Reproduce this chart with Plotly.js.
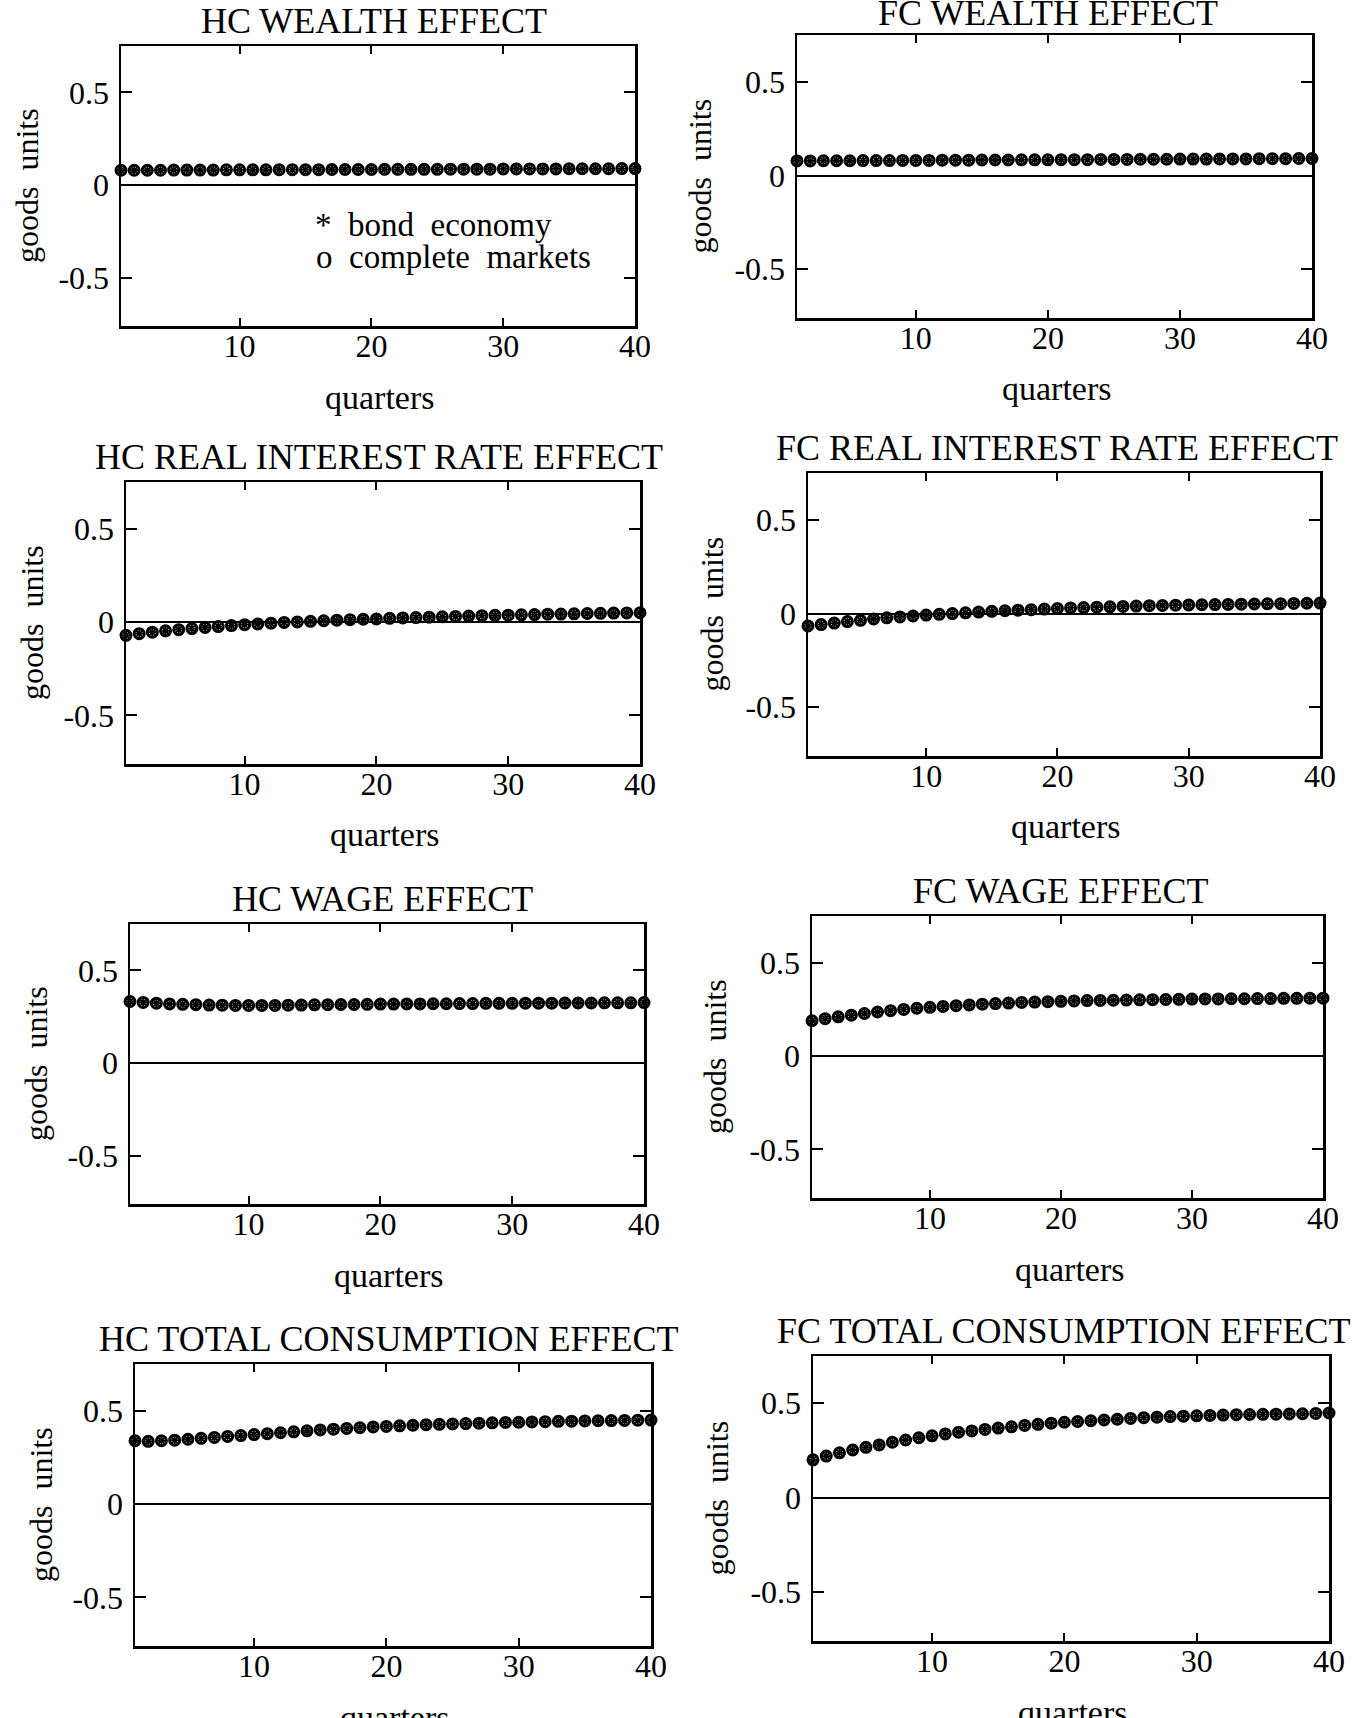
<!DOCTYPE html>
<html>
<head>
<meta charset="utf-8">
<script src="https://cdn.plot.ly/plotly-3.0.1.min.js"></script>
<style>
html,body{margin:0;padding:0;background:#fff;}
#chart{width:1364px;height:1718px;}
</style>
</head>
<body>
<div id="chart"></div>
<script>
// ---------- data ----------
const quarters = [1,2,3,4,5,6,7,8,9,10,11,12,13,14,15,16,17,18,19,20,21,22,23,24,25,26,27,28,29,30,31,32,33,34,35,36,37,38,39,40];

const panelTitles = ['HC WEALTH EFFECT','FC WEALTH EFFECT','HC REAL INTEREST RATE EFFECT','FC REAL INTEREST RATE EFFECT','HC WAGE EFFECT','FC WAGE EFFECT','HC TOTAL CONSUMPTION EFFECT','FC TOTAL CONSUMPTION EFFECT'];
const seriesNames = ['bond economy','complete markets'];
const xTickVals = [10,20,30,40];
const xTickText = ['10','20','30','40'];
const yTickVals = [-0.5,0,0.5];
const yTickText = ['-0.5','0','0.5'];
const xTitle = 'quarters';
const yTitle = 'goods  units';

const hcWealthBond = [0.080,0.080,0.080,0.080,0.081,0.081,0.081,0.081,0.082,0.082,0.082,0.082,0.083,0.083,0.083,0.083,0.084,0.084,0.084,0.084,0.085,0.085,0.085,0.085,0.085,0.086,0.086,0.086,0.086,0.087,0.087,0.087,0.087,0.087,0.088,0.088,0.088,0.088,0.089,0.089];
const hcWealthComp = [0.080,0.080,0.080,0.080,0.081,0.081,0.081,0.081,0.082,0.082,0.082,0.082,0.083,0.083,0.083,0.083,0.084,0.084,0.084,0.084,0.085,0.085,0.085,0.085,0.085,0.086,0.086,0.086,0.086,0.087,0.087,0.087,0.087,0.087,0.088,0.088,0.088,0.088,0.089,0.089];

const fcWealthBond = [0.078,0.078,0.079,0.079,0.079,0.080,0.080,0.080,0.081,0.081,0.081,0.082,0.082,0.082,0.083,0.083,0.083,0.084,0.084,0.084,0.085,0.085,0.085,0.086,0.086,0.086,0.087,0.087,0.087,0.088,0.088,0.088,0.089,0.089,0.089,0.090,0.090,0.090,0.091,0.091];
const fcWealthComp = [0.078,0.078,0.079,0.079,0.079,0.080,0.080,0.080,0.081,0.081,0.081,0.082,0.082,0.082,0.083,0.083,0.083,0.084,0.084,0.084,0.085,0.085,0.085,0.086,0.086,0.086,0.087,0.087,0.087,0.088,0.088,0.088,0.089,0.089,0.089,0.090,0.090,0.090,0.091,0.091];

const hcRateBond = [-0.071,-0.062,-0.054,-0.047,-0.041,-0.035,-0.029,-0.024,-0.019,-0.014,-0.010,-0.006,-0.002,0.001,0.004,0.007,0.010,0.013,0.015,0.017,0.020,0.022,0.024,0.026,0.028,0.030,0.032,0.034,0.036,0.037,0.039,0.040,0.042,0.043,0.044,0.046,0.047,0.048,0.049,0.050];
const hcRateComp = [-0.071,-0.062,-0.054,-0.047,-0.041,-0.035,-0.029,-0.024,-0.019,-0.014,-0.010,-0.006,-0.002,0.001,0.004,0.007,0.010,0.013,0.015,0.017,0.020,0.022,0.024,0.026,0.028,0.030,0.032,0.034,0.036,0.037,0.039,0.040,0.042,0.043,0.044,0.046,0.047,0.048,0.049,0.050];

const fcRateBond = [-0.066,-0.059,-0.051,-0.043,-0.036,-0.029,-0.023,-0.018,-0.013,-0.008,-0.004,0.000,0.004,0.008,0.012,0.015,0.018,0.021,0.024,0.027,0.030,0.032,0.034,0.036,0.038,0.040,0.042,0.043,0.045,0.046,0.047,0.048,0.049,0.050,0.051,0.052,0.053,0.054,0.055,0.056];
const fcRateComp = [-0.066,-0.059,-0.051,-0.043,-0.036,-0.029,-0.023,-0.018,-0.013,-0.008,-0.004,0.000,0.004,0.008,0.012,0.015,0.018,0.021,0.024,0.027,0.030,0.032,0.034,0.036,0.038,0.040,0.042,0.043,0.045,0.046,0.047,0.048,0.049,0.050,0.051,0.052,0.053,0.054,0.055,0.056];

const hcWageBond = [0.332,0.327,0.323,0.319,0.317,0.315,0.313,0.312,0.311,0.311,0.311,0.311,0.312,0.313,0.314,0.315,0.316,0.316,0.317,0.318,0.318,0.319,0.319,0.320,0.320,0.321,0.321,0.322,0.322,0.322,0.323,0.323,0.323,0.324,0.324,0.324,0.325,0.325,0.325,0.326];
const hcWageComp = [0.332,0.327,0.323,0.319,0.317,0.315,0.313,0.312,0.311,0.311,0.311,0.311,0.312,0.313,0.314,0.315,0.316,0.316,0.317,0.318,0.318,0.319,0.319,0.320,0.320,0.321,0.321,0.322,0.322,0.322,0.323,0.323,0.323,0.324,0.324,0.324,0.325,0.325,0.325,0.326];

const fcWageBond = [0.189,0.200,0.210,0.219,0.228,0.236,0.243,0.250,0.256,0.261,0.266,0.270,0.274,0.278,0.281,0.284,0.287,0.289,0.291,0.293,0.295,0.297,0.298,0.299,0.300,0.301,0.302,0.303,0.304,0.305,0.306,0.306,0.307,0.307,0.308,0.308,0.309,0.309,0.310,0.310];
const fcWageComp = [0.189,0.200,0.210,0.219,0.228,0.236,0.243,0.250,0.256,0.261,0.266,0.270,0.274,0.278,0.281,0.284,0.287,0.289,0.291,0.293,0.295,0.297,0.298,0.299,0.300,0.301,0.302,0.303,0.304,0.305,0.306,0.306,0.307,0.307,0.308,0.308,0.309,0.309,0.310,0.310];

const hcTotalBond = [0.339,0.336,0.339,0.342,0.347,0.352,0.357,0.362,0.367,0.372,0.377,0.382,0.387,0.392,0.397,0.401,0.405,0.409,0.413,0.416,0.419,0.422,0.425,0.427,0.429,0.431,0.433,0.435,0.437,0.438,0.440,0.441,0.443,0.444,0.445,0.446,0.447,0.448,0.449,0.450];
const hcTotalComp = [0.339,0.336,0.339,0.342,0.347,0.352,0.357,0.362,0.367,0.372,0.377,0.382,0.387,0.392,0.397,0.401,0.405,0.409,0.413,0.416,0.419,0.422,0.425,0.427,0.429,0.431,0.433,0.435,0.437,0.438,0.440,0.441,0.443,0.444,0.445,0.446,0.447,0.448,0.449,0.450];

const fcTotalBond = [0.200,0.220,0.237,0.252,0.266,0.279,0.293,0.305,0.317,0.327,0.337,0.346,0.353,0.361,0.368,0.375,0.382,0.388,0.394,0.399,0.403,0.407,0.411,0.415,0.419,0.423,0.426,0.429,0.431,0.433,0.435,0.437,0.439,0.440,0.441,0.442,0.443,0.444,0.446,0.448];
const fcTotalComp = [0.200,0.220,0.237,0.252,0.266,0.279,0.293,0.305,0.317,0.327,0.337,0.346,0.353,0.361,0.368,0.375,0.382,0.388,0.394,0.399,0.403,0.407,0.411,0.415,0.419,0.423,0.426,0.429,0.431,0.433,0.435,0.437,0.439,0.440,0.441,0.442,0.443,0.444,0.446,0.448];

const bondSeries = [hcWealthBond, fcWealthBond, hcRateBond, fcRateBond, hcWageBond, fcWageBond, hcTotalBond, fcTotalBond];
const compSeries = [hcWealthComp, fcWealthComp, hcRateComp, fcRateComp, hcWageComp, fcWageComp, hcTotalComp, fcTotalComp];

// ---------- layout (pixel boxes: left, right, top, bottom) ----------
const W = 1364, H = 1718;
const boxes = [
  [121, 635, 46, 326],
  [797, 1312, 35, 318],
  [126, 640, 482, 764],
  [808, 1320, 473, 756],
  [130, 644, 924, 1204],
  [812, 1323, 916, 1198],
  [135, 651, 1364, 1646],
  [813, 1329, 1356, 1641]
];
const FONT = '"Liberation Serif", "Times New Roman", serif';
const px = v => v / W;
const py = v => 1 - v / H;

const traces = [];
const layout = {
  width: W, height: H,
  margin: {l: 0, r: 0, t: 0, b: 0},
  paper_bgcolor: '#ffffff',
  plot_bgcolor: '#ffffff',
  showlegend: false,
  font: {family: FONT, color: '#000', size: 30},
  annotations: []
};

boxes.forEach((b, i) => {
  const n = i === 0 ? '' : String(i + 1);
  const xa = 'x' + n, ya = 'y' + n;
  const rightCol = (i % 2) === 1;
  traces.push({
    type: 'scatter', mode: 'markers', name: seriesNames[1],
    x: quarters, y: compSeries[i], xaxis: xa, yaxis: ya, cliponaxis: false,
    marker: {symbol: 'circle-open', size: 10, color: '#000', line: {width: 3, color: '#000'}}
  });
  traces.push({
    type: 'scatter', mode: 'markers', name: seriesNames[0],
    x: quarters, y: bondSeries[i], xaxis: xa, yaxis: ya, cliponaxis: false,
    marker: {symbol: 'asterisk-open', size: 8, color: '#000', line: {width: 1.8, color: '#000'}}
  });
  const common = {
    showline: true, linecolor: '#000', linewidth: 2.5, mirror: 'ticks',
    ticks: 'inside', tickcolor: '#000', tickwidth: 2,
    showgrid: false, tickfont: {family: FONT, size: 32, color: '#000'}
  };
  layout['xaxis' + n] = Object.assign({}, common, {
    domain: [px(b[0]), px(b[1])], anchor: ya, range: [1, 40],
    tickvals: xTickVals, ticktext: xTickText, ticklen: 8, zeroline: false,
    ticklabelstandoff: -10
  });
  layout['yaxis' + n] = Object.assign({}, common, {
    domain: [py(b[3]), py(b[2])], anchor: xa, range: [-0.76, 0.75],
    tickvals: yTickVals, ticktext: yTickText, ticklen: 11,
    zeroline: true, zerolinecolor: '#000', zerolinewidth: 2,
    ticklabelstandoff: 3
  });
  const cx = (b[0] + b[1]) / 2;
  const titleY = i === 1 ? b[2] - 22 : b[2] - 25;
  layout.annotations.push({
    text: panelTitles[i], xref: 'paper', yref: 'paper',
    x: px(cx + (rightCol ? -7 : -4)), y: py(titleY), xanchor: 'center', yanchor: 'middle',
    showarrow: false, font: {family: FONT, size: 36, color: '#000'}
  });
  layout.annotations.push({
    text: xTitle, xref: 'paper', yref: 'paper',
    x: px(cx + 2), y: py(b[3] + 71), xanchor: 'center', yanchor: 'middle',
    showarrow: false, font: {family: FONT, size: 34, color: '#000'}
  });
  layout.annotations.push({
    text: yTitle, xref: 'paper', yref: 'paper', textangle: -90,
    x: px(b[0] - (rightCol ? 97 : 94)), y: py((b[2] + b[3]) / 2), xanchor: 'center', yanchor: 'middle',
    showarrow: false, font: {family: FONT, size: 32, color: '#000'}
  });
});

// legend text (first panel)
layout.annotations.push({
  text: '*  bond  economy', xref: 'paper', yref: 'paper',
  x: px(313), y: py(225), xanchor: 'left', yanchor: 'middle',
  showarrow: false, font: {family: FONT, size: 33, color: '#000'}
});
layout.annotations.push({
  text: 'o  complete  markets', xref: 'paper', yref: 'paper',
  x: px(314), y: py(257), xanchor: 'left', yanchor: 'middle',
  showarrow: false, font: {family: FONT, size: 33, color: '#000'}
});

Plotly.newPlot('chart', traces, layout, {staticPlot: true, displayModeBar: false});
</script>
</body>
</html>
